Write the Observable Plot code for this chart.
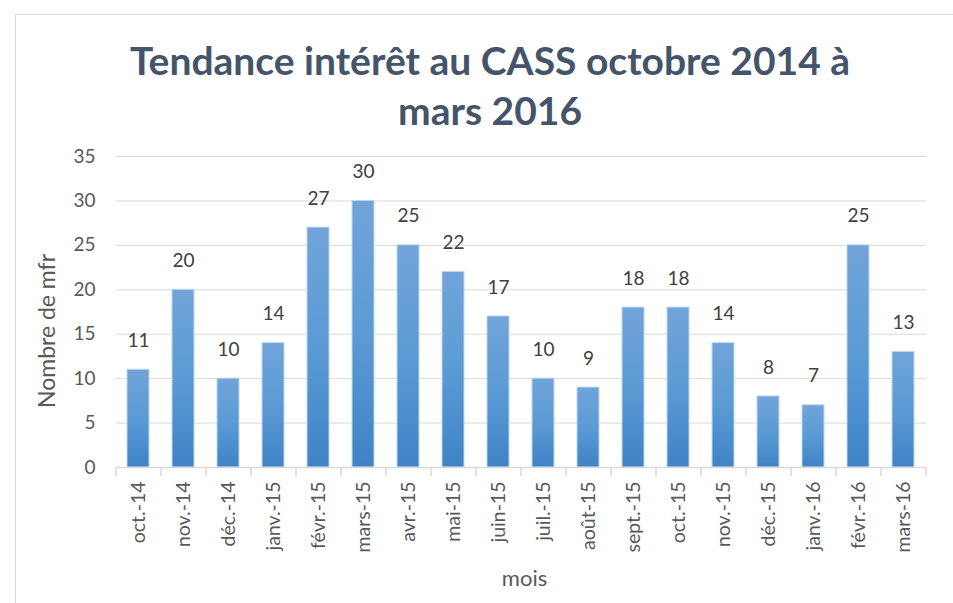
<!DOCTYPE html>
<html>
<head>
<meta charset="utf-8">
<script src="https://cdn.jsdelivr.net/npm/d3@7"></script>
<script src="https://cdn.jsdelivr.net/npm/@observablehq/plot@0.6"></script>
<style>
  html, body { margin: 0; padding: 0; background: #fff; overflow: hidden; }
  #wrap { position: relative; width: 953px; height: 603px; }
  #frame { position: absolute; left: 15px; top: 14px; width: 960px; height: 620px; border: 1px solid #d9d9d9; box-sizing: border-box; }
  #title { position: absolute; left: 0; top: 35px; width: 980px; text-align: center; font-family: Lato, "Open Sans", sans-serif; font-weight: bold; font-size: 39px; line-height: 50px; color: #44546a; }
  #chart { position: absolute; left: 0; top: 140px; }
</style>
</head>
<body>
<div id="wrap">
  <div id="frame"></div>
  <div id="title">Tendance intérêt au CASS octobre 2014 à<br>mars 2016</div>
  <div id="chart"></div>
</div>
<script>
const months = ["oct.-14","nov.-14","déc.-14","janv.-15","févr.-15","mars-15","avr.-15","mai-15","juin-15","juil.-15","août-15","sept.-15","oct.-15","nov.-15","déc.-15","janv.-16","févr.-16","mars-16"];
const values = [11,20,10,14,27,30,25,22,17,10,9,18,18,14,8,7,25,13];
const yTicks = [0,5,10,15,20,25,30,35];
const yTitle = "Nombre de mfr";
const xTitle = "mois";

const data = months.map((m, i) => ({month: m, value: values[i]}));
const W = 953, H = 463, mL = 116, mR = 27;
const step = (W - mL - mR) / months.length;

const plot = Plot.plot({
  width: W,
  height: H,
  marginLeft: mL,
  marginRight: mR,
  marginTop: 16,
  marginBottom: 136,
  style: {fontFamily: "Lato, 'Open Sans', sans-serif", color: "#595959", background: "transparent"},
  x: {domain: months, paddingInner: 0.51, paddingOuter: 0.255, label: null},
  y: {domain: [0, 35], label: null},
  marks: [
    Plot.gridY(yTicks, {stroke: "#d9d9d9", strokeOpacity: 1}),
    Plot.axisY(yTicks, {tickSize: 0, tickPadding: 21, fontSize: 19, fill: "#595959"}),
    Plot.axisX({tickSize: 0, tickRotate: -90, tickPadding: 14, fontSize: 19.5, fill: "#595959"}),
    Plot.barY(data, {x: "month", y: "value", fill: "url(#barGrad)", stroke: "#bdd7ee", strokeWidth: 1}),
    Plot.ruleY([0], {stroke: "#d9d9d9", strokeWidth: 1.5}),
    Plot.ruleX(months, {x: d => d, y1: 0, y2: 0, dx: -step / 2, stroke: "#d9d9d9", strokeWidth: 1.5, insetBottom: -9}),
    Plot.ruleX([months[months.length - 1]], {x: d => d, y1: 0, y2: 0, dx: step / 2, stroke: "#d9d9d9", strokeWidth: 1.5, insetBottom: -9}),
    Plot.text(data, {x: "month", y: "value", text: d => String(d.value), dy: -29, fontSize: 19, fill: "#404040"}),
    Plot.text([yTitle], {frameAnchor: "left", textAnchor: "middle", dx: -69, rotate: -90, fontSize: 23, fill: "#595959", dy: 19}),
    Plot.text([xTitle], {frameAnchor: "bottom", dy: 118, dx: 3, fontSize: 22, fill: "#595959"})
  ]
});

const svg = d3.select(plot);
const defs = svg.insert("defs", ":first-child");
const grad = defs.append("linearGradient").attr("id", "barGrad").attr("x1", 0).attr("y1", 0).attr("x2", 0).attr("y2", 1);
grad.append("stop").attr("offset", "0%").attr("stop-color", "#71a4d9");
grad.append("stop").attr("offset", "50%").attr("stop-color", "#5b9bd5");
grad.append("stop").attr("offset", "100%").attr("stop-color", "#3f83c6");

document.getElementById("chart").appendChild(plot);
</script>
</body>
</html>
